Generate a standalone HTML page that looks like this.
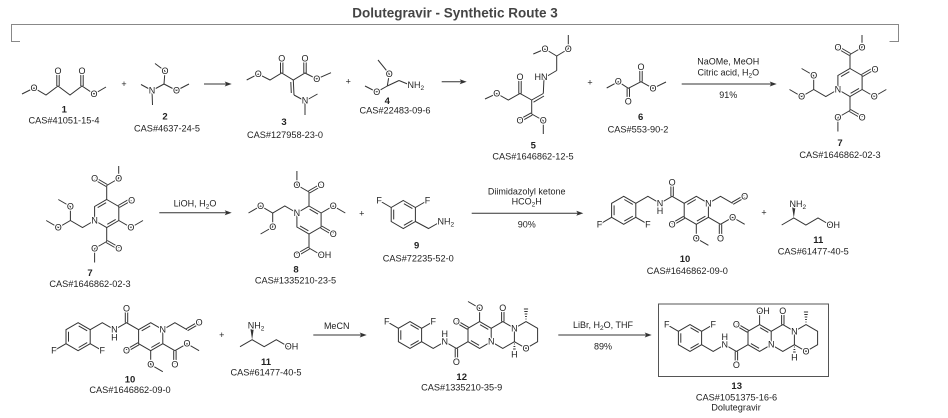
<!DOCTYPE html>
<html><head><meta charset="utf-8"><style>
html,body{margin:0;padding:0;background:#fff;}
svg{display:block}
text{font-family:"Liberation Sans",Arial,sans-serif;fill:#222;dominant-baseline:central;text-anchor:middle}
.a{font-size:9px;stroke:#fff;stroke-width:2.4;paint-order:stroke;stroke-linejoin:round}
.n{font-size:9.5px;font-weight:bold}
.c{font-size:9.2px}
.r{font-size:9px}
.p{font-size:9px}
.s{font-size:6.5px;baseline-shift:sub}
.st{text-anchor:start}
</style></head><body>
<svg width="948" height="418" viewBox="0 0 948 418">
<text x="455" y="13" font-size="13.5" font-weight="bold" style="fill:#444">Dolutegravir - Synthetic Route 3</text>
<polyline points="20,41.5 11.5,41.5 11.5,24.5 898.5,24.5 898.5,41.5 889.5,41.5" fill="none" stroke="#888" stroke-width="1"/>

<!-- arrows -->
<g stroke="#333" stroke-width="1">
<line x1="204" y1="84" x2="228" y2="84"/>
<line x1="441.7" y1="81.7" x2="463" y2="81.7"/>
<line x1="681.7" y1="84" x2="773" y2="84"/>
<line x1="159.3" y1="212.7" x2="228" y2="212.7"/>
<line x1="471.7" y1="213.3" x2="580" y2="213.3"/>
<line x1="313.3" y1="335" x2="363" y2="335"/>
<line x1="558.3" y1="335" x2="648" y2="335"/>
</g>
<g fill="#333">
<polygon points="231.7,84 224.7,81.5 226.2,84 224.7,86.5"/>
<polygon points="466.7,81.7 459.7,79.2 461.2,81.7 459.7,84.2"/>
<polygon points="776.7,84 769.7,81.5 771.2,84 769.7,86.5"/>
<polygon points="231.7,212.7 224.7,210.2 226.2,212.7 224.7,215.2"/>
<polygon points="583.3,213.3 576.3,210.8 577.8,213.3 576.3,215.8"/>
<polygon points="366.7,335 359.7,332.5 361.2,335 359.7,337.5"/>
<polygon points="651.7,335 644.7,332.5 646.2,335 644.7,337.5"/>
</g>

<!-- reagents -->
<text class="r" x="728.3" y="61.7">NaOMe, MeOH</text>
<text class="r" x="728.3" y="72.7">Citric acid, H<tspan class="s">2</tspan><tspan>O</tspan></text>
<text class="r" x="728.3" y="95">91%</text>
<text class="r" x="195" y="203.3">LiOH, H<tspan class="s">2</tspan><tspan>O</tspan></text>
<text class="r" x="526.7" y="191.7">Diimidazolyl ketone</text>
<text class="r" x="526.7" y="201.7">HCO<tspan class="s">2</tspan><tspan>H</tspan></text>
<text class="r" x="526.7" y="224.3">90%</text>
<text class="r" x="336.7" y="326">MeCN</text>
<text class="r" x="603" y="325">LiBr, H<tspan class="s">2</tspan><tspan>O, THF</tspan></text>
<text class="r" x="603" y="346.7">89%</text>

<!-- plus signs -->
<g class="p">
<text x="124" y="84">+</text>
<text x="348.3" y="81.7">+</text>
<text x="590" y="82.3">+</text>
<text x="361.7" y="213.3">+</text>
<text x="764" y="212.7">+</text>
<text x="221.7" y="335">+</text>
</g>

<!-- compound labels -->
<text class="n" x="64.3" y="110">1</text><text class="c" x="64" y="120.7">CAS#41051-15-4</text>
<text class="n" x="165" y="117">2</text><text class="c" x="167" y="128.3">CAS#4637-24-5</text>
<text class="n" x="284" y="122.7">3</text><text class="c" x="285" y="135">CAS#127958-23-0</text>
<text class="n" x="387.3" y="101.7">4</text><text class="c" x="395" y="110.7">CAS#22483-09-6</text>
<text class="n" x="533.3" y="146">5</text><text class="c" x="533" y="156.7">CAS#1646862-12-5</text>
<text class="n" x="640.7" y="117.3">6</text><text class="c" x="638" y="129.3">CAS#553-90-2</text>
<text class="n" x="840" y="143.3">7</text><text class="c" x="840" y="155">CAS#1646862-02-3</text>
<text class="n" x="90" y="273.3">7</text><text class="c" x="90" y="284">CAS#1646862-02-3</text>
<text class="n" x="296" y="270">8</text><text class="c" x="295.5" y="280.7">CAS#1335210-23-5</text>
<text class="n" x="416.7" y="246">9</text><text class="c" x="418.3" y="258.3">CAS#72235-52-0</text>
<text class="n" x="685" y="259.3">10</text><text class="c" x="687.3" y="271">CAS#1646862-09-0</text>
<text class="n" x="818.3" y="240.7">11</text><text class="c" x="813.3" y="251.7">CAS#61477-40-5</text>
<text class="n" x="130" y="380">10</text><text class="c" x="130" y="390">CAS#1646862-09-0</text>
<text class="n" x="266" y="362.7">11</text><text class="c" x="266" y="372.7">CAS#61477-40-5</text>
<text class="n" x="461.7" y="377.3">12</text><text class="c" x="461.7" y="387.3">CAS#1335210-35-9</text>
<text class="n" x="736.7" y="386.7">13</text><text class="c" x="736.5" y="397.3">CAS#1051375-16-6</text>
<text class="c" x="736" y="407.3">Dolutegravir</text>

<!-- box around 13 -->
<rect x="658.5" y="304" width="170" height="72.5" fill="none" stroke="#555" stroke-width="1"/>

<!-- ========== Compound 1 ========== -->
<g stroke="#333" stroke-width="1" fill="none">
<polyline points="22,94 34,88 46,95 58,86 70,95 82,86 94,94 106,87"/>
<line x1="56.8" y1="86" x2="56.8" y2="72"/><line x1="59.2" y1="86" x2="59.2" y2="72"/>
<line x1="80.8" y1="86" x2="80.8" y2="72"/><line x1="83.2" y1="86" x2="83.2" y2="72"/>
</g>
<g class="a"><text x="34" y="88">O</text><text x="94" y="94">O</text><text x="58" y="71">O</text><text x="82" y="71">O</text></g>

<!-- ========== Compound 2 ========== -->
<g stroke="#333" stroke-width="1" fill="none">
<line x1="152" y1="90.5" x2="141" y2="84.5"/>
<line x1="152" y1="90.5" x2="152.5" y2="105"/>
<line x1="152" y1="90.5" x2="164" y2="84"/>
<line x1="164" y1="84" x2="165" y2="71"/>
<line x1="165" y1="71" x2="155" y2="63.5"/>
<line x1="164" y1="84" x2="176.5" y2="90.5"/>
<line x1="176.5" y1="90.5" x2="189" y2="84"/>
</g>
<g class="a"><text x="152" y="90.5">N</text><text x="165" y="71">O</text><text x="176.5" y="90.5">O</text></g>

<!-- ========== Compound 3 ========== -->
<g stroke="#333" stroke-width="1" fill="none">
<polyline points="246.7,80 258.3,74 270,80 281.7,73 293.3,80 305,73 316.7,79 331,72.7"/>
<line x1="280.5" y1="73" x2="280.5" y2="59"/><line x1="282.9" y1="73" x2="282.9" y2="59"/>
<line x1="303.8" y1="73" x2="303.8" y2="59"/><line x1="306.2" y1="73" x2="306.2" y2="59"/>
<line x1="293.3" y1="80" x2="294" y2="95"/>
<line x1="290.8" y1="82" x2="291.3" y2="93"/>
<line x1="294" y1="95" x2="305" y2="101"/>
<line x1="305" y1="101" x2="305" y2="115"/>
<line x1="305" y1="101" x2="317.5" y2="94"/>
</g>
<g class="a"><text x="258.3" y="74">O</text><text x="316.7" y="79">O</text><text x="281.7" y="58.3">O</text><text x="305" y="58.3">O</text><text x="305" y="100.5">N</text></g>

<!-- ========== Compound 4 ========== -->
<g stroke="#333" stroke-width="1" fill="none">
<line x1="378" y1="60" x2="389.3" y2="74"/>
<line x1="389.3" y1="74" x2="387.3" y2="86"/>
<line x1="387.3" y1="86" x2="376.7" y2="92"/>
<line x1="376.7" y1="92" x2="365" y2="86"/>
<line x1="387.3" y1="86" x2="399" y2="80.5"/>
<line x1="399" y1="80.5" x2="410" y2="85"/>
</g>
<g class="a"><text x="389.3" y="74">O</text><text x="376.7" y="92">O</text>
<text class="st" x="407.5" y="85">NH<tspan class="s">2</tspan></text></g>

<!-- ========== Compound 5 ========== -->
<g stroke="#333" stroke-width="1" fill="none">
<polyline points="485,99 496.7,93.5 508.3,100 520,93.5 531.7,100"/>
<line x1="518.8" y1="93.5" x2="518.8" y2="78"/><line x1="521.2" y1="93.5" x2="521.2" y2="78"/>
<line x1="531.7" y1="100" x2="543.3" y2="93.5"/>
<line x1="533.5" y1="102.2" x2="544" y2="96"/>
<line x1="543.3" y1="93.5" x2="544" y2="78"/>
<line x1="544" y1="78" x2="556.7" y2="70.5"/>
<line x1="556.7" y1="70.5" x2="556.7" y2="56"/>
<line x1="556.7" y1="56" x2="545" y2="49"/>
<line x1="545" y1="49" x2="533.3" y2="54"/>
<line x1="556.7" y1="56" x2="568.3" y2="49"/>
<line x1="568.3" y1="49" x2="568.3" y2="35"/>
<line x1="531.7" y1="100" x2="531.7" y2="114"/>
<line x1="531.1" y1="112.95" x2="519.4" y2="119.45"/>
<line x1="532.3" y1="115.05" x2="520.6" y2="121.55"/>
<line x1="531.7" y1="114" x2="543.3" y2="120.5"/>
<line x1="543.3" y1="120.5" x2="543.3" y2="134"/>
</g>
<g class="a"><text x="496.7" y="93.5">O</text><text x="520" y="77">O</text>
<text x="541" y="77">HN</text>
<text x="545" y="49">O</text><text x="568.3" y="49">O</text>
<text x="520" y="120.5">O</text><text x="543.3" y="120.5">O</text></g>

<!-- ========== Compound 6 ========== -->
<g stroke="#333" stroke-width="1" fill="none">
<polyline points="606.7,88 618.3,81.7 628.3,88.3 641,81.7 653,88.3 666,82"/>
<line x1="627.1" y1="88.3" x2="627.1" y2="100"/><line x1="629.5" y1="88.3" x2="629.5" y2="100"/>
<line x1="639.8" y1="81.7" x2="639.8" y2="68"/><line x1="642.2" y1="81.7" x2="642.2" y2="68"/>
</g>
<g class="a"><text x="618.3" y="81.7">O</text><text x="653" y="88.3">O</text><text x="628.3" y="101.5">O</text><text x="641" y="67">O</text></g>

<!-- ========== Compound 7 (row 1) ========== -->
<g>
<g stroke="#333" stroke-width="1" fill="none">
<polygon points="850,68.5 862.1,75.5 862.1,89.5 850,96.5 837.9,89.5 837.9,75.5"/>
<line x1="841" y1="76.6" x2="849.4" y2="71.7"/>
<line x1="850.6" y1="93.3" x2="859" y2="88.4"/>
<line x1="850" y1="68.5" x2="850" y2="54.5"/>
<line x1="850.6" y1="53.5" x2="838.6" y2="46.5"/><line x1="849.4" y1="55.5" x2="837.4" y2="48.5"/>
<line x1="850" y1="54.5" x2="862" y2="47.5"/>
<line x1="862" y1="47.5" x2="862" y2="35"/>
<line x1="862.7" y1="76.5" x2="874.8" y2="69.5"/><line x1="861.5" y1="74.5" x2="873.6" y2="67.5"/>
<line x1="862.1" y1="89.5" x2="874.2" y2="96.5"/>
<line x1="874.2" y1="96.5" x2="886.3" y2="89.5"/>
<line x1="850" y1="96.5" x2="850" y2="110.5"/>
<line x1="850.6" y1="109.5" x2="862.7" y2="116.5"/><line x1="849.4" y1="111.5" x2="861.5" y2="118.5"/>
<line x1="850" y1="110.5" x2="837.9" y2="117.5"/>
<line x1="837.9" y1="117.5" x2="837.9" y2="131.5"/>
<polyline points="837.9,89.5 825.8,96.5 813.7,89.5 813.7,75.5 801.6,68.5"/>
<polyline points="813.7,89.5 801.6,96.5 789.5,89.5"/>
</g>
<g class="a">
<text x="837.9" y="89.5">N</text>
<text x="838" y="47.5">O</text><text x="862" y="47.5">O</text>
<text x="875" y="69.5">O</text><text x="874.2" y="96.5">O</text>
<text x="862.1" y="117.5">O</text><text x="837.9" y="117.5">O</text>
<text x="813.7" y="75.5">O</text><text x="801.6" y="96.5">O</text>
</g>
</g>

<!-- ========== Compound 7 (row 2) ========== -->
<g transform="translate(-743.3,131)">
<g stroke="#333" stroke-width="1" fill="none">
<polygon points="850,68.5 862.1,75.5 862.1,89.5 850,96.5 837.9,89.5 837.9,75.5"/>
<line x1="841" y1="76.6" x2="849.4" y2="71.7"/>
<line x1="850.6" y1="93.3" x2="859" y2="88.4"/>
<line x1="850" y1="68.5" x2="850" y2="54.5"/>
<line x1="850.6" y1="53.5" x2="838.6" y2="46.5"/><line x1="849.4" y1="55.5" x2="837.4" y2="48.5"/>
<line x1="850" y1="54.5" x2="862" y2="47.5"/>
<line x1="862" y1="47.5" x2="862" y2="35"/>
<line x1="862.7" y1="76.5" x2="874.8" y2="69.5"/><line x1="861.5" y1="74.5" x2="873.6" y2="67.5"/>
<line x1="862.1" y1="89.5" x2="874.2" y2="96.5"/>
<line x1="874.2" y1="96.5" x2="886.3" y2="89.5"/>
<line x1="850" y1="96.5" x2="850" y2="110.5"/>
<line x1="850.6" y1="109.5" x2="862.7" y2="116.5"/><line x1="849.4" y1="111.5" x2="861.5" y2="118.5"/>
<line x1="850" y1="110.5" x2="837.9" y2="117.5"/>
<line x1="837.9" y1="117.5" x2="837.9" y2="131.5"/>
<polyline points="837.9,89.5 825.8,96.5 813.7,89.5 813.7,75.5 801.6,68.5"/>
<polyline points="813.7,89.5 801.6,96.5 789.5,89.5"/>
</g>
<g class="a">
<text x="837.9" y="89.5">N</text>
<text x="838" y="47.5">O</text><text x="862" y="47.5">O</text>
<text x="875" y="69.5">O</text><text x="874.2" y="96.5">O</text>
<text x="862.1" y="117.5">O</text><text x="837.9" y="117.5">O</text>
<text x="813.7" y="75.5">O</text><text x="801.6" y="96.5">O</text>
</g>
</g>

<!-- ========== Compound 8 ========== -->
<g stroke="#333" stroke-width="1" fill="none">
<polygon points="309,206 321.1,213 321.1,227 309,234 296.9,227 296.9,213"/>
<line x1="309.6" y1="209.2" x2="318" y2="214.1"/>
<line x1="300" y1="225.9" x2="308.4" y2="230.8"/>
<polyline points="296.9,213 284.8,206 272.7,213 260.6,206 248.5,213"/>
<polyline points="272.7,213 272.7,227 260.6,234"/>
<line x1="309" y1="206" x2="309" y2="192"/>
<line x1="309.6" y1="193" x2="321.7" y2="186"/><line x1="308.4" y1="191" x2="320.5" y2="184"/>
<polyline points="309,192 296.9,185 296.9,171"/>
<polyline points="321.1,213 333.2,206 345.3,213"/>
<line x1="320.5" y1="228" x2="332.6" y2="235"/><line x1="321.7" y1="226" x2="333.8" y2="233"/>
<line x1="309" y1="234" x2="309" y2="248"/>
<line x1="309.6" y1="249" x2="297.5" y2="256"/><line x1="308.4" y1="247" x2="296.3" y2="254"/>
<line x1="309" y1="248" x2="321.1" y2="255"/>
</g>
<g class="a">
<text x="296.9" y="213">N</text>
<text x="260.6" y="206">O</text><text x="272.7" y="227">O</text>
<text x="321.1" y="185">O</text><text x="296.9" y="185">O</text>
<text x="333.2" y="206">O</text><text x="333.2" y="234">O</text>
<text x="296.9" y="255">O</text><text class="st" x="317.8" y="255">OH</text>
</g>

<!-- ========== Compound 9 ========== -->
<g stroke="#333" stroke-width="1" fill="none">
<polygon points="403.3,200.5 415.4,207.5 415.4,221.5 403.3,228.5 391.2,221.5 391.2,207.5"/>
<line x1="403.9" y1="203.7" x2="412.4" y2="208.6"/>
<line x1="412.4" y1="220.4" x2="403.9" y2="225.3"/>
<line x1="393.7" y1="219.4" x2="393.7" y2="209.6"/>
<line x1="391.2" y1="207.5" x2="379.1" y2="200.5"/>
<line x1="415.4" y1="207.5" x2="427.5" y2="200.5"/>
<polyline points="415.4,221.5 428.5,228.5 440,222"/>
</g>
<g class="a">
<text x="379.1" y="200.5">F</text><text x="427.5" y="200.5">F</text>
<text class="st" x="437.5" y="221.5">NH<tspan class="s">2</tspan></text>
</g>

<!-- ========== Compound 10 (row 3) ========== -->
<g>
<g stroke="#333" stroke-width="1" fill="none">
<polygon points="78.1,322.7 90.2,329.7 90.2,343.7 78.1,350.7 66,343.7 66,329.7"/>
<line x1="78.7" y1="325.9" x2="87.2" y2="330.8"/>
<line x1="87.2" y1="342.6" x2="78.7" y2="347.5"/>
<line x1="68.5" y1="341.6" x2="68.5" y2="331.8"/>
<line x1="90.2" y1="343.7" x2="102.3" y2="350.7"/>
<line x1="66" y1="343.7" x2="53.9" y2="350.7"/>
<polyline points="90.2,329.7 102.3,322.7 114.4,329.7 126.5,322.7 138.6,329.7"/>
<line x1="125.3" y1="322.7" x2="125.3" y2="309.5"/><line x1="127.7" y1="322.7" x2="127.7" y2="309.5"/>
<polygon points="150.7,322.7 162.8,329.7 162.8,343.7 150.7,350.7 138.6,343.7 138.6,329.7"/>
<line x1="141.7" y1="330.8" x2="150.2" y2="325.9"/>
<line x1="159.8" y1="342.6" x2="151.3" y2="347.5"/>
<polyline points="162.8,329.7 174.9,322.7 187,329.7"/>
<line x1="187.6" y1="330.7" x2="199.7" y2="323.7"/><line x1="186.4" y1="328.7" x2="198.5" y2="321.7"/>
<line x1="162.8" y1="343.7" x2="174.9" y2="350.7"/>
<line x1="173.7" y1="350.7" x2="173.7" y2="364"/><line x1="176.1" y1="350.7" x2="176.1" y2="364"/>
<polyline points="174.9,350.7 187,343.7 199.1,350.7"/>
<polyline points="150.7,350.7 150.7,364.7 162.8,371.7"/>
<line x1="139.2" y1="344.7" x2="127.1" y2="351.7"/><line x1="138" y1="342.7" x2="125.9" y2="349.7"/>
</g>
<g class="a">
<text x="102.3" y="350.7">F</text><text x="53.9" y="350.7">F</text>
<text x="114.4" y="329.7">N</text><text x="114.4" y="337.5">H</text>
<text x="126.5" y="308.7">O</text>
<text x="162.8" y="329.7">N</text>
<text x="199.1" y="322.7">O</text>
<text x="174.9" y="364.7">O</text><text x="187" y="343.7">O</text>
<text x="150.7" y="364.7">O</text><text x="126.5" y="350.7">O</text>
</g>
</g>

<!-- ========== Compound 10 (row 2) ========== -->
<g transform="translate(545.6,-126.4)">
<g stroke="#333" stroke-width="1" fill="none">
<polygon points="78.1,322.7 90.2,329.7 90.2,343.7 78.1,350.7 66,343.7 66,329.7"/>
<line x1="78.7" y1="325.9" x2="87.2" y2="330.8"/>
<line x1="87.2" y1="342.6" x2="78.7" y2="347.5"/>
<line x1="68.5" y1="341.6" x2="68.5" y2="331.8"/>
<line x1="90.2" y1="343.7" x2="102.3" y2="350.7"/>
<line x1="66" y1="343.7" x2="53.9" y2="350.7"/>
<polyline points="90.2,329.7 102.3,322.7 114.4,329.7 126.5,322.7 138.6,329.7"/>
<line x1="125.3" y1="322.7" x2="125.3" y2="309.5"/><line x1="127.7" y1="322.7" x2="127.7" y2="309.5"/>
<polygon points="150.7,322.7 162.8,329.7 162.8,343.7 150.7,350.7 138.6,343.7 138.6,329.7"/>
<line x1="141.7" y1="330.8" x2="150.2" y2="325.9"/>
<line x1="159.8" y1="342.6" x2="151.3" y2="347.5"/>
<polyline points="162.8,329.7 174.9,322.7 187,329.7"/>
<line x1="187.6" y1="330.7" x2="199.7" y2="323.7"/><line x1="186.4" y1="328.7" x2="198.5" y2="321.7"/>
<line x1="162.8" y1="343.7" x2="174.9" y2="350.7"/>
<line x1="173.7" y1="350.7" x2="173.7" y2="364"/><line x1="176.1" y1="350.7" x2="176.1" y2="364"/>
<polyline points="174.9,350.7 187,343.7 199.1,350.7"/>
<polyline points="150.7,350.7 150.7,364.7 162.8,371.7"/>
<line x1="139.2" y1="344.7" x2="127.1" y2="351.7"/><line x1="138" y1="342.7" x2="125.9" y2="349.7"/>
</g>
<g class="a">
<text x="102.3" y="350.7">F</text><text x="53.9" y="350.7">F</text>
<text x="114.4" y="329.7">N</text><text x="114.4" y="337.5">H</text>
<text x="126.5" y="308.7">O</text>
<text x="162.8" y="329.7">N</text>
<text x="199.1" y="322.7">O</text>
<text x="174.9" y="364.7">O</text><text x="187" y="343.7">O</text>
<text x="150.7" y="364.7">O</text><text x="126.5" y="350.7">O</text>
</g>
</g>

<!-- ========== Compound 11 (row 2) ========== -->
<g stroke="#333" stroke-width="1" fill="none">
<polyline points="781.7,225 793.8,218 805.9,225 818,218 830.1,225"/>
</g>
<polygon points="793.8,218 792.2,207.5 795.4,207.5" fill="#333"/>
<g class="a">
<text class="st" x="789.5" y="204">NH<tspan class="s">2</tspan></text>
<text class="st" x="826.5" y="225">OH</text>
</g>

<!-- ========== Compound 11 (row 3) ========== -->
<g transform="translate(-541.7,121.7)">
<g stroke="#333" stroke-width="1" fill="none">
<polyline points="781.7,225 793.8,218 805.9,225 818,218 830.1,225"/>
</g>
<polygon points="793.8,218 792.2,207.5 795.4,207.5" fill="#333"/>
<g class="a">
<text class="st" x="789.5" y="204">NH<tspan class="s">2</tspan></text>
<text class="st" x="826.5" y="225">OH</text>
</g>
</g>

<!-- ========== Compound 12 ========== -->
<g>
<g stroke="#333" stroke-width="1" fill="none">
<polygon points="410,321.6 421.6,328.3 421.6,341.7 410,348.4 398.4,341.7 398.4,328.3"/>
<line x1="410.5" y1="324.7" x2="418.7" y2="329.4"/>
<line x1="418.7" y1="340.6" x2="410.5" y2="345.3"/>
<line x1="400.8" y1="339.7" x2="400.8" y2="330.3"/>
<line x1="398.4" y1="328.3" x2="386.8" y2="321.6"/>
<line x1="421.6" y1="328.3" x2="433.2" y2="321.6"/>
<polyline points="421.6,341.7 433.2,348.4 444.8,341.7 456.4,348.4 468,341.7"/>
<line x1="455.2" y1="348.4" x2="455.2" y2="361"/><line x1="457.6" y1="348.4" x2="457.6" y2="361"/>
<polygon points="479.6,321.6 491.2,328.3 491.2,341.7 479.6,348.4 468,341.7 468,328.3"/>
<line x1="480.1" y1="324.7" x2="488.3" y2="329.4"/>
<line x1="470.9" y1="340.6" x2="479.1" y2="345.3"/>
<line x1="468.6" y1="327.3" x2="457" y2="320.6"/><line x1="467.4" y1="329.3" x2="455.8" y2="322.6"/>
<polyline points="479.6,321.6 479.6,308.2 468,301.5"/>
<polyline points="491.2,328.3 502.8,321.6 514.4,328.3 514.4,341.7 502.8,348.4 491.2,341.7"/>
<line x1="501.6" y1="321.6" x2="501.6" y2="309"/><line x1="504" y1="321.6" x2="504" y2="309"/>
<polyline points="514.4,328.3 526,321.6 537.6,328.3 537.6,341.7 526,348.4 514.4,341.7"/>
<line x1="525.5" y1="319" x2="526.5" y2="319"/>
<line x1="525.1" y1="316.5" x2="526.9" y2="316.5"/>
<line x1="524.7" y1="314" x2="527.3" y2="314"/>
<line x1="524.3" y1="311.5" x2="527.7" y2="311.5"/>
<line x1="523.9" y1="309" x2="528.1" y2="309"/>
<line x1="513.9" y1="344" x2="514.9" y2="344"/>
<line x1="513.5" y1="346.5" x2="515.3" y2="346.5"/>
<line x1="513.1" y1="349" x2="515.7" y2="349"/>
</g>
<g class="a">
<text x="386.8" y="321.6">F</text><text x="433.2" y="321.6">F</text>
<text x="444.8" y="341.7">N</text><text x="444.8" y="334">H</text>
<text x="456.4" y="361.8">O</text>
<text x="456.4" y="321.6">O</text>
<text x="479.6" y="308.2">O</text>
<text x="502.8" y="308.2">O</text>
<text x="491.2" y="341.7">N</text>
<text x="514.4" y="328.3">N</text>
<text x="526" y="348.4">O</text>
<text x="514.4" y="354.5">H</text>
</g>
</g>

<!-- ========== Compound 13 ========== -->
<g transform="translate(280,3)">
<g stroke="#333" stroke-width="1" fill="none">
<polygon points="410,321.6 421.6,328.3 421.6,341.7 410,348.4 398.4,341.7 398.4,328.3"/>
<line x1="410.5" y1="324.7" x2="418.7" y2="329.4"/>
<line x1="418.7" y1="340.6" x2="410.5" y2="345.3"/>
<line x1="400.8" y1="339.7" x2="400.8" y2="330.3"/>
<line x1="398.4" y1="328.3" x2="386.8" y2="321.6"/>
<line x1="421.6" y1="328.3" x2="433.2" y2="321.6"/>
<polyline points="421.6,341.7 433.2,348.4 444.8,341.7 456.4,348.4 468,341.7"/>
<line x1="455.2" y1="348.4" x2="455.2" y2="361"/><line x1="457.6" y1="348.4" x2="457.6" y2="361"/>
<polygon points="479.6,321.6 491.2,328.3 491.2,341.7 479.6,348.4 468,341.7 468,328.3"/>
<line x1="480.1" y1="324.7" x2="488.3" y2="329.4"/>
<line x1="470.9" y1="340.6" x2="479.1" y2="345.3"/>
<line x1="468.6" y1="327.3" x2="457" y2="320.6"/><line x1="467.4" y1="329.3" x2="455.8" y2="322.6"/>
<line x1="479.6" y1="321.6" x2="479.6" y2="308.2"/>
<polyline points="491.2,328.3 502.8,321.6 514.4,328.3 514.4,341.7 502.8,348.4 491.2,341.7"/>
<line x1="501.6" y1="321.6" x2="501.6" y2="309"/><line x1="504" y1="321.6" x2="504" y2="309"/>
<polyline points="514.4,328.3 526,321.6 537.6,328.3 537.6,341.7 526,348.4 514.4,341.7"/>
<line x1="525.5" y1="319" x2="526.5" y2="319"/>
<line x1="525.1" y1="316.5" x2="526.9" y2="316.5"/>
<line x1="524.7" y1="314" x2="527.3" y2="314"/>
<line x1="524.3" y1="311.5" x2="527.7" y2="311.5"/>
<line x1="523.9" y1="309" x2="528.1" y2="309"/>
<line x1="513.9" y1="344" x2="514.9" y2="344"/>
<line x1="513.5" y1="346.5" x2="515.3" y2="346.5"/>
<line x1="513.1" y1="349" x2="515.7" y2="349"/>
</g>
<g class="a">
<text x="386.8" y="321.6">F</text><text x="433.2" y="321.6">F</text>
<text x="444.8" y="341.7">N</text><text x="444.8" y="334">H</text>
<text x="456.4" y="361.8">O</text>
<text x="456.4" y="321.6">O</text>
<text class="st" x="476.2" y="308.2">OH</text>
<text x="502.8" y="308.2">O</text>
<text x="491.2" y="341.7">N</text>
<text x="514.4" y="328.3">N</text>
<text x="526" y="348.4">O</text>
<text x="514.4" y="354.5">H</text>
</g>
</g>
</svg>
</body></html>
